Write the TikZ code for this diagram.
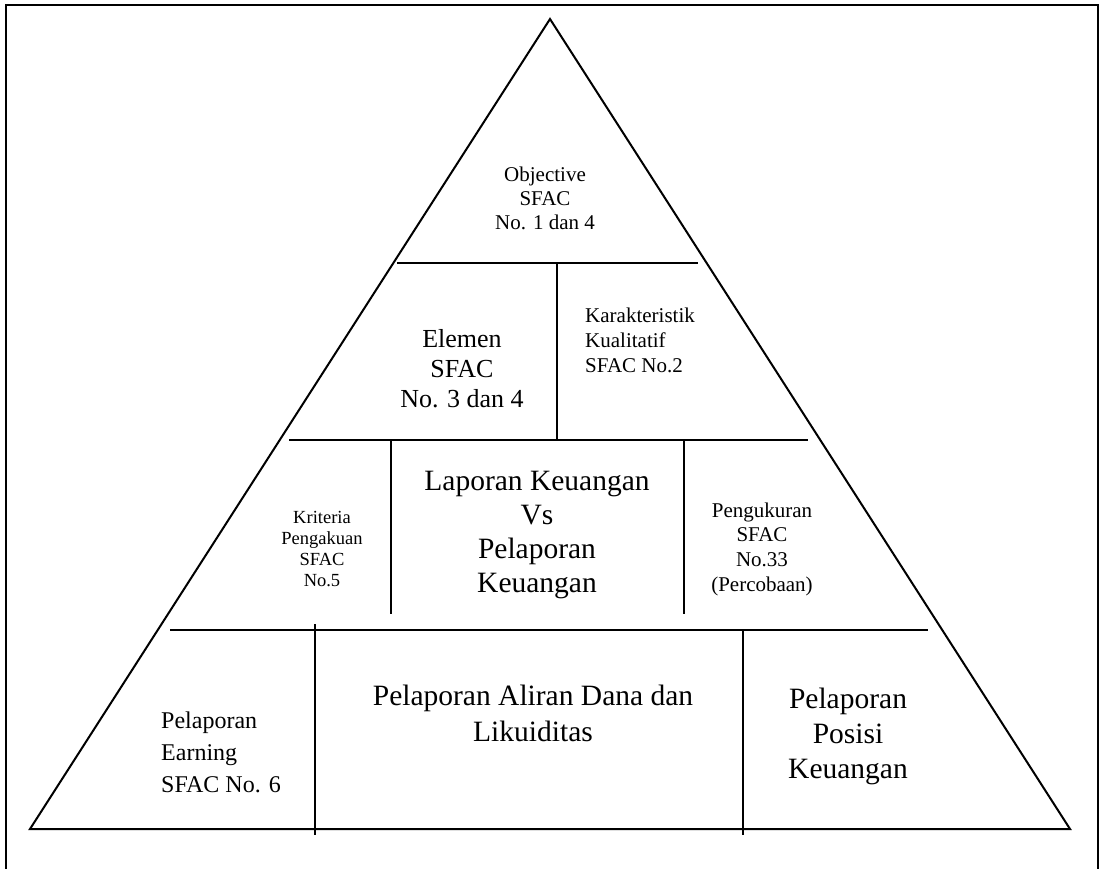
\documentclass[tikz,border=0pt]{standalone}
\usepackage{fontspec}
\setmainfont{Liberation Serif}
\begin{document}
\begin{tikzpicture}[x=1pt,y=-1pt,
  rule/.style={line width=2pt},
  frame/.style={line width=2.5pt},
  lbl/.style={inner sep=0pt,align=center},
  lblleft/.style={inner sep=0pt,align=left,anchor=west}]
\useasboundingbox (0,0) rectangle (1105,868);
\fill[white] (0,0) rectangle (1105,868);
% outer frame
\draw[frame] (6,5) rectangle (1098,875);
% pyramid outline
\coordinate (apex) at (550,19);
\coordinate (bl) at (30,829);
\coordinate (br) at (1070,829);
\draw[rule,line join=miter] (apex) -- (bl) -- (br) -- cycle;
% tier dividers
\draw[rule] (397,263) -- (698,263);
\draw[rule] (557,263) -- (557,440);
\draw[rule] (289,440) -- (808,440);
\draw[rule] (391,440) -- (391,614);
\draw[rule] (684,440) -- (684,614);
\draw[rule] (170,630) -- (928,630);
\draw[rule] (315,624) -- (315,835);
\draw[rule] (743,630) -- (743,835);
% labels
\node[lbl,font=\fontsize{21}{24}\selectfont] (objective) at (545,198)
  {Objective\\SFAC\\No. 1 dan 4};
\node[lbl,font=\fontsize{26}{30}\selectfont] (elemen) at (462,369)
  {Elemen\\SFAC\\No. 3 dan 4};
\node[lblleft,font=\fontsize{21}{25}\selectfont] (kualitatif) at (585,340)
  {Karakteristik\\Kualitatif\\SFAC No.2};
\node[lbl,font=\fontsize{18.5}{21}\selectfont] (kriteria) at (322,549)
  {Kriteria\\Pengakuan\\SFAC\\No.5};
\node[lbl,font=\fontsize{29.5}{33.7}\selectfont] (laporan) at (537,535)
  {Laporan Keuangan\\Vs\\Pelaporan\\Keuangan};
\node[lbl,font=\fontsize{21}{24.7}\selectfont] (pengukuran) at (762,549)
  {Pengukuran\\SFAC\\No.33\\(Percobaan)};
\node[lblleft,font=\fontsize{24}{32}\selectfont] (earning) at (161,752)
  {Pelaporan\\Earning\\SFAC No. 6};
\node[lbl,font=\fontsize{29.5}{36}\selectfont] (aliran) at (533,713)
  {Pelaporan Aliran Dana dan\\Likuiditas};
\node[lbl,font=\fontsize{29.5}{35}\selectfont] (posisi) at (848,736)
  {Pelaporan\\Posisi\\Keuangan};
\end{tikzpicture}
\end{document}
